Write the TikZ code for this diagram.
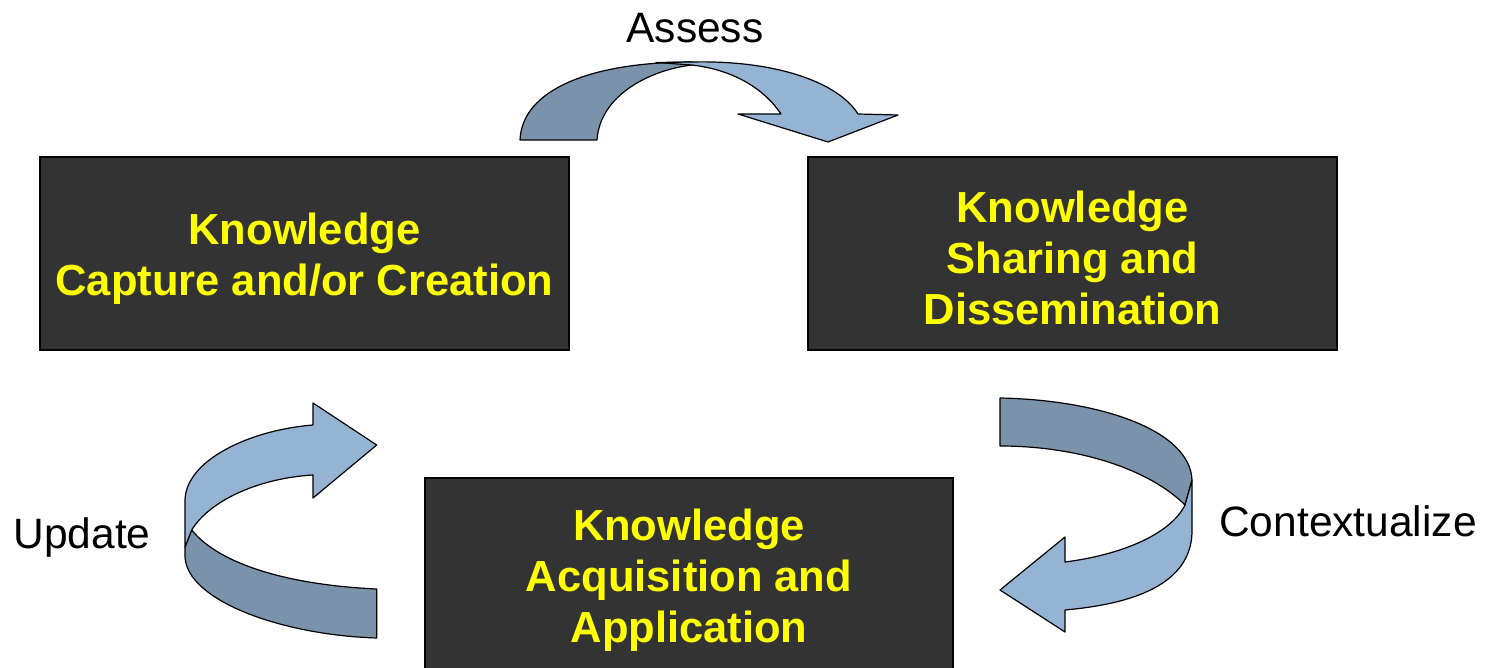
\documentclass[tikz,border=0pt]{standalone}
\usepackage{fontspec}
\setmainfont{Liberation Sans}
\definecolor{boxfill}{HTML}{333333}
\definecolor{txtyellow}{HTML}{FFFF00}
\definecolor{ribbondark}{HTML}{7A93AB}
\definecolor{ribbonlight}{HTML}{95B3D2}
\tikzset{
  kbox/.style={draw=black, line width=1.2pt, fill=boxfill, rectangle, inner sep=0pt},
  ktext/.style={text=txtyellow, align=center, inner sep=0pt, font=\fontsize{43.5}{51}\selectfont\bfseries},
  lbl/.style={inner sep=0pt, font=\fontsize{42.5}{50}\selectfont},
  back/.style={draw=black, line width=1.2pt, fill=ribbondark, line join=round},
  front/.style={draw=black, line width=1.2pt, fill=ribbonlight, line join=round}
}
\begin{document}
\begin{tikzpicture}[x=1pt,y=-1pt]
\useasboundingbox (0,0) rectangle (1488,668);
\clip (0,0) rectangle (1488,668);
% boxes
\node[kbox, minimum width=529pt, minimum height=193pt] (b1) at (304.5,253.5) {};
\node[kbox, minimum width=529pt, minimum height=193pt] (b2) at (1072.5,253.5) {};
\node[kbox, minimum width=528pt, minimum height=250pt] (b3) at (689,603) {};
\node[ktext] (t1) at (304.5,259) {Knowledge\\Capture and/or Creation};
\node[ktext] (t2) at (1072.5,258) {Knowledge\\Sharing and\\Dissemination};
\node[ktext] (t3) at (689,580) {Knowledge\\Acquisition and\\Application};
% labels
\node[lbl] (assess) at (695,28) {Assess};
\node[lbl] (context) at (1348,521) {Contextualize};
\node[lbl] (update) at (82,538) {Update};
% top arrow (Assess)
\draw[back] (520,140) .. controls (522,90) and (590,62) .. (692,62)
  -- (692,65) .. controls (650,70) and (600,95) .. (597,140) -- cycle;
\draw[front] (692,62) .. controls (775,60) and (838,82) .. (858,114)
  -- (898,115) -- (828,142) -- (738,114) -- (781,114)
  .. controls (765,90) and (735,70) .. (692,65) -- (656,62.5) -- cycle;
% right arrow (Contextualize)
\draw[back] (1000,398) .. controls (1100,400) and (1190,430) .. (1192,480)
  -- (1185,505) .. controls (1150,470) and (1080,446) .. (1000,446) -- cycle;
\draw[front] (1192,480) -- (1192,533) .. controls (1190,590) and (1120,605) .. (1065,610)
  -- (1065,632) -- (1000,590) -- (1065,537) -- (1065,562)
  .. controls (1120,555) and (1170,535) .. (1185,505) -- cycle;
% left arrow (Update)
\draw[back] (376.7,589) -- (376.7,638) .. controls (280,635) and (187,600) .. (185,557)
  -- (185,547) -- (191.7,530) .. controls (220,565) and (290,585) .. (376.7,589) -- cycle;
\draw[front] (185,547) -- (185,500) .. controls (186,460) and (250,430) .. (313,425)
  -- (313,403) -- (376.7,445) -- (313,498) -- (313,475)
  .. controls (260,478) and (210,500) .. (191.7,530) -- cycle;
\end{tikzpicture}
\end{document}
